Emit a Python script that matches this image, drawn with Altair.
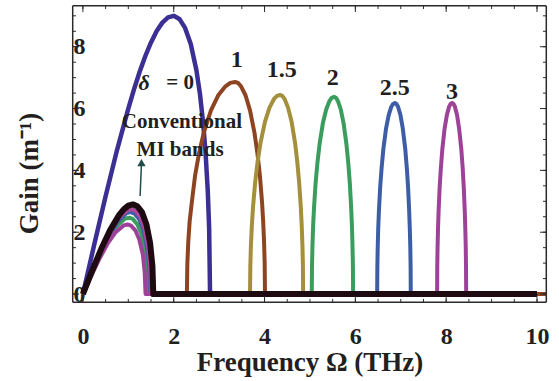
import altair as alt
import pandas as pd

# ---------------- data ----------------
# delta = 0 : the big band
D0_X = [0, 0.25, 0.5, 0.75, 1.0, 1.125, 1.25, 1.375, 1.5, 1.625, 1.75, 1.875, 2.0, 2.125,
        2.25, 2.375, 2.5, 2.58, 2.65, 2.7, 2.75, 2.78, 2.8, 10.0]
D0_G = [0, 1.60, 3.16, 4.65, 6.00, 6.62, 7.19, 7.70, 8.14, 8.51, 8.78, 8.95, 9.0, 8.90,
        8.61, 8.09, 7.24, 6.45, 5.50, 4.60, 3.33, 2.13, 0, 0]

# delta = 1
D1_X = [1.45, 2.29, 2.30, 2.32, 2.35, 2.40, 2.47, 2.555, 2.66, 2.82, 2.98, 3.14, 3.244, 3.35,
        3.416, 3.482, 3.581, 3.68, 3.779, 3.845, 3.898, 3.944, 3.970, 3.990, 4.003, 4.01, 10.2]
D1_G = [0, 0, 0.97, 1.67, 2.34, 2.99, 3.83, 4.53, 5.21, 5.94, 6.43, 6.72, 6.83, 6.86,
        6.83, 6.72, 6.43, 5.94, 5.21, 4.53, 3.83, 2.99, 2.34, 1.67, 0.97, 0, 0]

# delta = 1.5
D15_X = [1.42, 3.68, 3.687, 3.700, 3.720, 3.746, 3.792, 3.845, 3.911, 4.01, 4.109, 4.208, 4.274, 4.34,
         4.391, 4.442, 4.518, 4.595, 4.672, 4.722, 4.763, 4.799, 4.819, 4.835, 4.845, 4.85, 10.0]
D15_G = [0, 0, 0.91, 1.56, 2.20, 2.81, 3.59, 4.26, 4.89, 5.58, 6.03, 6.31, 6.41, 6.44,
         6.41, 6.31, 6.03, 5.58, 4.89, 4.26, 3.59, 2.81, 2.20, 1.56, 0.91, 0, 0]

# delta = 2
D2_X = [0, 0.19, 0.37, 0.56, 0.74, 0.93, 1.02, 1.10, 1.20, 1.29, 1.37, 1.41, 1.43,
        5.04, 5.045, 5.055, 5.069, 5.089, 5.123, 5.163, 5.212, 5.285, 5.359, 5.432, 5.481, 5.53,
        5.572, 5.614, 5.677, 5.74, 5.803, 5.845, 5.879, 5.908, 5.925, 5.937, 5.946, 5.95, 10.0]
D2_G = [0, 0.64, 1.24, 1.77, 2.19, 2.44, 2.47, 2.43, 2.25, 1.94, 1.40, 0.79, 0,
        0, 0.90, 1.55, 2.18, 2.78, 3.56, 4.22, 4.85, 5.53, 5.98, 6.25, 6.35, 6.38,
        6.35, 6.25, 5.98, 5.53, 4.85, 4.22, 3.56, 2.78, 2.18, 1.55, 0.90, 0, 0]

# delta = 2.5
D25_X = [0, 0.19, 0.38, 0.58, 0.77, 0.96, 1.05, 1.14, 1.24, 1.33, 1.41, 1.46, 1.48,
         6.48, 6.484, 6.492, 6.503, 6.519, 6.546, 6.578, 6.617, 6.675, 6.734, 6.792, 6.831, 6.87,
         6.905, 6.94, 6.993, 7.045, 7.098, 7.133, 7.161, 7.185, 7.199, 7.21, 7.217, 7.22, 10.0]
D25_G = [0, 0.68, 1.33, 1.90, 2.35, 2.62, 2.65, 2.60, 2.42, 2.08, 1.50, 0.84, 0,
         0, 0.87, 1.50, 2.11, 2.69, 3.45, 4.08, 4.70, 5.35, 5.79, 6.06, 6.15, 6.18,
         6.15, 6.06, 5.79, 5.35, 4.70, 4.08, 3.45, 2.69, 2.11, 1.50, 0.87, 0, 0]

# delta = 3
D3_X = [0, 0.18, 0.36, 0.54, 0.72, 0.90, 0.98, 1.06, 1.16, 1.24, 1.32, 1.36, 1.38,
        7.80, 7.803, 7.81, 7.82, 7.833, 7.856, 7.883, 7.916, 7.965, 8.015, 8.064, 8.097, 8.13,
        8.161, 8.192, 8.239, 8.285, 8.332, 8.363, 8.387, 8.409, 8.421, 8.431, 8.437, 8.44, 10.0]
D3_G = [0, 0.58, 1.13, 1.62, 2.0, 2.22, 2.25, 2.21, 2.05, 1.77, 1.28, 0.72, 0,
        0, 0.87, 1.50, 2.11, 2.69, 3.45, 4.08, 4.70, 5.35, 5.79, 6.06, 6.15, 6.18,
        6.15, 6.06, 5.79, 5.35, 4.70, 4.08, 3.45, 2.69, 2.11, 1.50, 0.87, 0, 0]

# other conventional MI bands
CM_X = [0, 0.195, 0.39, 0.585, 0.78, 0.975, 1.065, 1.155, 1.26, 1.35, 1.433, 1.48, 1.5, 10.0]
CM_G = [0, 0.71, 1.38, 1.97, 2.44, 2.72, 2.75, 2.70, 2.51, 2.16, 1.56, 0.87, 0, 0]

CB_X = [0, 0.2, 0.4, 0.6, 0.8, 0.9, 1.0, 1.1, 1.2, 1.3, 1.4, 1.48, 1.53, 1.55, 10.0]
CB_G = [0, 0.742, 1.446, 2.07, 2.56, 2.74, 2.86, 2.90, 2.84, 2.65, 2.25, 1.645, 0.917, 0, 0]

# labels
LABEL_TEXT = ["1", "1.5", "2", "2.5", "3"]
LABEL_X = [3.39, 4.38, 5.50, 6.87, 8.13]
LABEL_Y = [7.57, 7.25, 6.99, 6.67, 6.54]

NOTE_TEXT = ["= 0", "Conventional", "MI bands"]
NOTE_X = [2.14, 2.18, 2.14]
NOTE_Y = [6.83, 5.57, 4.66]
DELTA_X = [1.35]
DELTA_Y = [6.83]

ARROW_X = [1.26]
ARROW_Y = [3.17]
ARROW_X2 = [1.29]
ARROW_Y2 = [4.25]

X_MAJOR = [0, 2, 4, 6, 8, 10]
Y_MAJOR = [0, 2, 4, 6, 8]
X_MINOR = [0, 0.5, 1, 1.5, 2, 2.5, 3, 3.5, 4, 4.5, 5, 5.5, 6, 6.5, 7, 7.5, 8, 8.5, 9, 9.5, 10]
Y_MINOR = [0, 0.5, 1, 1.5, 2, 2.5, 3, 3.5, 4, 4.5, 5, 5.5, 6, 6.5, 7, 7.5, 8, 8.5, 9]

# ---------------- styling ----------------
W, H = 475, 298
XMIN, XMAX = -0.24, 10.22
YMIN, YMAX = -0.29, 9.35
PX_X = (XMAX - XMIN) / W   # data units per pixel, x
PX_Y = (YMAX - YMIN) / H   # data units per pixel, y
FONT = "Liberation Serif"
TXT = "#231f20"
FRAME = "#2a2a2a"
EPS_X = 0.7 * PX_X
EPS_Y = 0.7 * PX_Y

xscale = alt.Scale(domain=[XMIN, XMAX], nice=False, zero=False)
yscale = alt.Scale(domain=[YMIN, YMAX], nice=False, zero=False)
xaxis = alt.Axis(values=X_MAJOR, title="Frequency Ω (THz)", ticks=False, tickSize=0, domain=False,
                 grid=False, labelPadding=21, titlePadding=1, format="d")
yaxis = alt.Axis(values=Y_MAJOR, title="Gain (m⁻¹)", ticks=False, tickSize=0, domain=False,
                 grid=False, labelPadding=-13, format="d",
                 titleX=-29, titleY=168, titleBaseline="bottom", titleAngle=270)


def X(field="x"):
    return alt.X(f"{field}:Q", scale=xscale, axis=xaxis)


def Y(field="g"):
    return alt.Y(f"{field}:Q", scale=yscale, axis=yaxis)


series = [
    (D0_X, D0_G, "#3b2f93", 4.5),
    (D1_X, D1_G, "#8e4420", 4),
    (D15_X, D15_G, "#a38f3c", 4),
    (D2_X, D2_G, "#3a9d5d", 4),
    (D25_X, D25_G, "#3d5ea6", 4),
    (D3_X, D3_G, "#9e4299", 4),
    (CM_X, CM_G, "#b0479f", 4),
    (CB_X, CB_G, "#1e0b12", 6),
]

layers = []
for xs, gs, col, w in series:
    df = pd.DataFrame({"x": xs, "g": gs, "i": list(range(len(xs)))})
    layers.append(
        alt.Chart(df).mark_line(color=col, strokeWidth=w, strokeJoin="round")
        .encode(x=X(), y=Y(), order="i:Q")
    )

# arrow
arrow_df = pd.DataFrame({"x": ARROW_X, "g": ARROW_Y, "x2": ARROW_X2, "g2": ARROW_Y2})
layers.append(alt.Chart(arrow_df).mark_rule(color="#1f4e4a", strokeWidth=1.5)
              .encode(x=X(), y=Y(), x2="x2:Q", y2="g2:Q"))
layers.append(alt.Chart(arrow_df).mark_point(shape="triangle-up", filled=True, size=70,
                                             color="#1f4e4a", opacity=1)
              .encode(x=X("x2"), y=Y("g2")))

# labels
lab_df = pd.DataFrame({"x": LABEL_X, "g": LABEL_Y, "t": LABEL_TEXT})
layers.append(alt.Chart(lab_df).mark_text(font=FONT, fontWeight="bold", fontSize=24,
                                          color=TXT, baseline="middle")
              .encode(x=X(), y=Y(), text="t:N"))
note_df = pd.DataFrame({"x": NOTE_X, "g": NOTE_Y, "t": NOTE_TEXT})
layers.append(alt.Chart(note_df).mark_text(font=FONT, fontWeight="bold", fontSize=21,
                                           color=TXT, baseline="middle")
              .encode(x=X(), y=Y(), text="t:N"))
delta_df = pd.DataFrame({"x": DELTA_X, "g": DELTA_Y, "t": ["δ"]})
layers.append(alt.Chart(delta_df).mark_text(font=FONT, fontWeight="bold", fontStyle="italic",
                                            fontSize=22, color=TXT, baseline="middle")
              .encode(x=X(), y=Y(), text="t:N"))


# inward frame ticks (on all four sides)
def xticks(vals, length_px):
    L = length_px * PX_Y
    d = pd.DataFrame({"x": vals,
                      "b1": [YMIN + EPS_Y] * len(vals), "b2": [YMIN + L] * len(vals),
                      "t1": [YMAX - EPS_Y] * len(vals), "t2": [YMAX - L] * len(vals)})
    bot = alt.Chart(d).mark_rule(color=FRAME, strokeWidth=1).encode(
        x=X(), y=Y("b1"), y2="b2:Q")
    top = alt.Chart(d).mark_rule(color=FRAME, strokeWidth=1).encode(
        x=X(), y=Y("t1"), y2="t2:Q")
    return [bot, top]


def yticks(vals, length_px):
    L = length_px * PX_X
    d = pd.DataFrame({"g": vals,
                      "l1": [XMIN + EPS_X] * len(vals), "l2": [XMIN + L] * len(vals),
                      "r1": [XMAX - EPS_X] * len(vals), "r2": [XMAX - L] * len(vals)})
    left = alt.Chart(d).mark_rule(color=FRAME, strokeWidth=1).encode(
        y=Y(), x=X("l1"), x2="l2:Q")
    right = alt.Chart(d).mark_rule(color=FRAME, strokeWidth=1).encode(
        y=Y(), x=X("r1"), x2="r2:Q")
    return [left, right]


layers += xticks(X_MINOR, 4) + xticks(X_MAJOR, 7) + yticks(Y_MINOR, 4) + yticks(Y_MAJOR, 7)

# frame box (just inside the plot edges)
fx0, fx1 = XMIN + EPS_X, XMAX - EPS_X
fy0, fy1 = YMIN + EPS_Y, YMAX - EPS_Y
frame_df = pd.DataFrame({"x": [fx0, fx0, fx0, fx1], "x2": [fx1, fx1, fx0, fx1],
                         "g": [fy0, fy1, fy0, fy0], "g2": [fy0, fy1, fy1, fy1]})
layers.append(alt.Chart(frame_df).mark_rule(color=FRAME, strokeWidth=1.5)
              .encode(x=X(), y=Y(), x2="x2:Q", y2="g2:Q"))

chart = (
    alt.layer(*layers)
    .properties(width=W, height=H, autosize=alt.AutoSizeParams(type="none"),
                padding={"left": 72, "top": 5, "right": 12, "bottom": 78},
                background="white")
    .configure_view(stroke=None)
    .configure_axis(labelFont=FONT, labelFontWeight="bold", labelFontSize=24, labelColor=TXT,
                    titleFont=FONT, titleFontWeight="bold", titleFontSize=27, titleColor=TXT)
)

chart.save("out.html", embed_options={"renderer": "svg", "actions": False})
